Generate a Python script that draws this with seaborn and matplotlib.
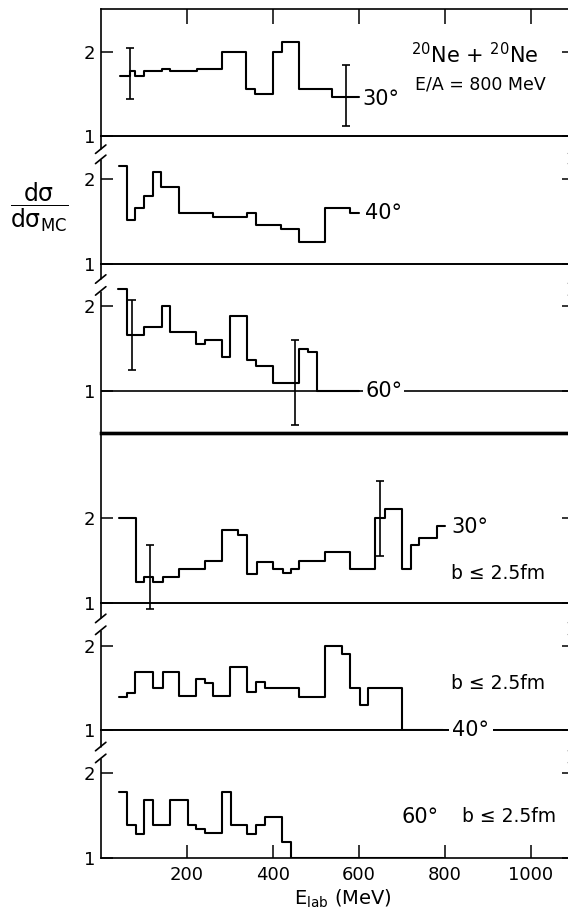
import matplotlib
matplotlib.use("Agg")
import matplotlib.pyplot as plt
import matplotlib.transforms as mtransforms
import pandas as pd
import seaborn as sns

# ---------------- data: bin edges (E_lab, MeV) and ratio dsigma/dsigma_MC ----------------
e_30 = [45, 67, 80, 101, 142, 161, 223, 281, 339, 359, 401, 421, 462, 539, 600]
r_30 = [1.71, 1.77, 1.71, 1.77, 1.80, 1.77, 1.80, 2.00, 1.56, 1.50, 2.00, 2.11, 1.56, 1.46]

e_40 = [43, 60, 80, 101, 122, 140, 182, 260, 341, 361, 419, 461, 522, 580, 600]
r_40 = [2.15, 1.52, 1.66, 1.80, 2.08, 1.91, 1.60, 1.55, 1.60, 1.46, 1.41, 1.26, 1.66, 1.60]

e_60 = [41, 60, 101, 142, 161, 222, 243, 281, 301, 341, 360, 400, 461, 483, 502, 600]
r_60 = [2.20, 1.66, 1.76, 2.00, 1.70, 1.55, 1.60, 1.40, 1.89, 1.37, 1.30, 1.09, 1.49, 1.46, 1.00]

e_30b = [43, 82, 101, 122, 144, 182, 243, 281, 320, 341, 363, 400, 425, 443, 461, 522, 580,
         638, 661, 700, 721, 741, 781, 801]
r_30b = [2.00, 1.25, 1.31, 1.25, 1.31, 1.40, 1.50, 1.86, 1.80, 1.34, 1.49, 1.40, 1.35, 1.40,
         1.50, 1.60, 1.40, 2.00, 2.11, 1.40, 1.69, 1.77, 1.91]

e_40b = [43, 60, 80, 122, 144, 182, 222, 243, 262, 301, 341, 361, 381, 461, 522, 560, 580,
         602, 621, 700, 797]
r_40b = [1.39, 1.44, 1.69, 1.50, 1.69, 1.40, 1.61, 1.56, 1.40, 1.75, 1.45, 1.57, 1.50, 1.39,
         2.00, 1.90, 1.50, 1.30, 1.50, 1.00]

e_60b = [43, 60, 81, 101, 122, 161, 204, 222, 243, 281, 302, 341, 361, 382, 422, 442, 797]
r_60b = [1.78, 1.38, 1.28, 1.68, 1.38, 1.68, 1.38, 1.34, 1.29, 1.78, 1.38, 1.28, 1.38, 1.48,
         1.19, 1.00]

# error bars (x, centre, half-length)
err_30_x, err_30_y, err_30_e = [67, 570], [1.74, 1.48], [0.30, 0.36]
err_60_x, err_60_y, err_60_e = [72, 453], [1.66, 1.10], [0.41, 0.50]
err_30b_x, err_30b_y, err_30b_e = [115, 650], [1.31, 2.00], [0.375, 0.44]

x_ticks = [200, 400, 600, 800, 1000]
x_ticklabels = ["200", "400", "600", "800", "1000"]
y_ticks = [1, 2]
y_ticklabels = ["1", "2"]

# ---------------- figure ----------------
sns.set_style("ticks")
plt.rcParams["font.family"] = ["DejaVu Sans"]
plt.rcParams["mathtext.fontset"] = "dejavusans"
plt.rcParams["mathtext.default"] = "regular"
for k in ("text.color", "axes.labelcolor", "xtick.color", "ytick.color", "axes.edgecolor"):
    plt.rcParams[k] = "black"

fig, axes = plt.subplots(
    6, 1, figsize=(5.68, 9.11), dpi=100, sharex=True,
    gridspec_kw=dict(height_ratios=[1.5, 1.5, 2, 2, 1.5, 1.5], hspace=0),
)
fig.subplots_adjust(left=100.7 / 568, right=(100.7 + 0.43 * 1100) / 568,
                    top=1 - 9.2 / 911, bottom=1 - 857.7 / 911)

edges_all = [e_30, e_40, e_60, e_30b, e_40b, e_60b]
vals_all = [r_30, r_40, r_60, r_30b, r_40b, r_60b]
ylims = [(1, 2.5), (1, 2.5), (0.5, 2.5), (1, 3), (1, 2.5), (1, 2.5)]

for i, (ax, e, r, yl) in enumerate(zip(axes, edges_all, vals_all, ylims)):
    ax.set_zorder(10 - i)
    ax.patch.set_alpha(0)
    df = pd.DataFrame({"E": e, "ratio": list(r) + [r[-1]]})
    sns.lineplot(data=df, x="E", y="ratio", ax=ax, drawstyle="steps-post", color="black",
                 linewidth=1.5, estimator=None, sort=False, legend=False)
    ax.set_xlim(0, 1100)
    ax.set_ylim(*yl)
    ax.set_yticks(y_ticks)
    ax.set_yticklabels(y_ticklabels)
    ax.set_xlabel("")
    ax.set_ylabel("")
    ax.tick_params(axis="y", direction="in", left=True, right=True, length=8.5, width=1.1,
                   labelsize=13, pad=4, labelleft=True, labelright=False, colors="black")
    ax.tick_params(axis="x", bottom=False, top=False, labelbottom=False, labeltop=False)
    for s in ax.spines.values():
        s.set_visible(True)
        s.set_linewidth(1.2)
        s.set_color("black")

# x ticks: top of first panel, bottom of last panel
axes[0].set_xticks(x_ticks)
axes[0].tick_params(axis="x", top=True, direction="in", length=11, width=1.1)
axes[-1].set_xticks(x_ticks)
axes[-1].set_xticklabels(x_ticklabels)
axes[-1].tick_params(axis="x", bottom=True, direction="in", length=9.5, width=1.1,
                     labelbottom=True, labelsize=13, pad=6, colors="black")

# heavier separator between the two groups
axes[2].spines["bottom"].set_linewidth(2.4)
axes[3].spines["top"].set_linewidth(2.4)


def errbars(ax, x, y, e):
    cont = ax.errorbar(x, y, yerr=e, fmt="none", ecolor="black", elinewidth=1.2,
                       capsize=2.6, capthick=1.2)
    for art in list(cont.lines[1]) + list(cont.lines[2]):
        art.set_clip_on(False)


errbars(axes[0], err_30_x, err_30_y, err_30_e)
errbars(axes[2], err_60_x, err_60_y, err_60_e)
errbars(axes[3], err_30b_x, err_30b_y, err_30b_e)

# reference lines at 1
axes[2].axhline(1, color="black", lw=1.2, zorder=1)
axes[4].axhline(1, color="black", lw=1.2, zorder=1)


# axis break marks
def breakmark(ax, y_lo, y_hi):
    tr = mtransforms.blended_transform_factory(ax.transAxes, ax.transData)
    for xs in (0.0, 1.0):
        ax.plot([xs, xs], [y_lo, y_hi], color="white", lw=3.5, transform=tr,
                clip_on=False, zorder=5, solid_capstyle="butt")
        for yc in (y_lo, y_hi):
            ax.plot([xs - 0.011, xs + 0.011], [yc - 0.05, yc + 0.05], color="black", lw=1.2,
                    transform=tr, clip_on=False, zorder=6)


breakmark(axes[1], 2.23, 2.35)
breakmark(axes[2], 2.18, 2.32)
breakmark(axes[4], 2.18, 2.32)
breakmark(axes[5], 2.17, 2.31)

# annotations
fs_deg = 15
axes[0].text(722, 1.96, r"$^{20}$Ne + $^{20}$Ne", fontsize=15, ha="left", va="center")
axes[0].text(730, 1.61, "E/A = 800 MeV", fontsize=12.5, ha="left", va="center")
axes[0].text(608, 1.44, "30°", fontsize=fs_deg, ha="left", va="center")

axes[1].text(615, 1.60, "40°", fontsize=fs_deg, ha="left", va="center")

axes[2].text(615, 1.0, "60°", fontsize=fs_deg, ha="left", va="center", zorder=4,
             bbox=dict(facecolor="white", edgecolor="none", pad=1.5))

axes[3].text(815, 1.90, "30°", fontsize=fs_deg, ha="left", va="center")
axes[3].text(815, 1.345, "b \u2264 2.5fm", fontsize=13.5, ha="left", va="center")

axes[4].text(815, 1.55, "b \u2264 2.5fm", fontsize=13.5, ha="left", va="center")
axes[4].text(818, 1.0, "40°", fontsize=fs_deg, ha="left", va="center", zorder=4,
             clip_on=False, bbox=dict(facecolor="white", edgecolor="none", pad=2.5))

axes[5].text(700, 1.48, "60°", fontsize=fs_deg, ha="left", va="center")
axes[5].text(840, 1.48, "b \u2264 2.5fm", fontsize=13.5, ha="left", va="center")

# axis titles
fig.text(343 / 568, 1 - 899 / 911, r"E$_{\mathrm{lab}}$ (MeV)", fontsize=14,
         ha="center", va="center")
fig.text(39 / 568, 1 - 207 / 911, r"$\dfrac{\mathrm{d}\sigma}{\mathrm{d}\sigma_{\mathrm{MC}}}$",
         fontsize=17, ha="center", va="center")

fig.savefig("out.png", dpi=100, facecolor="white")
